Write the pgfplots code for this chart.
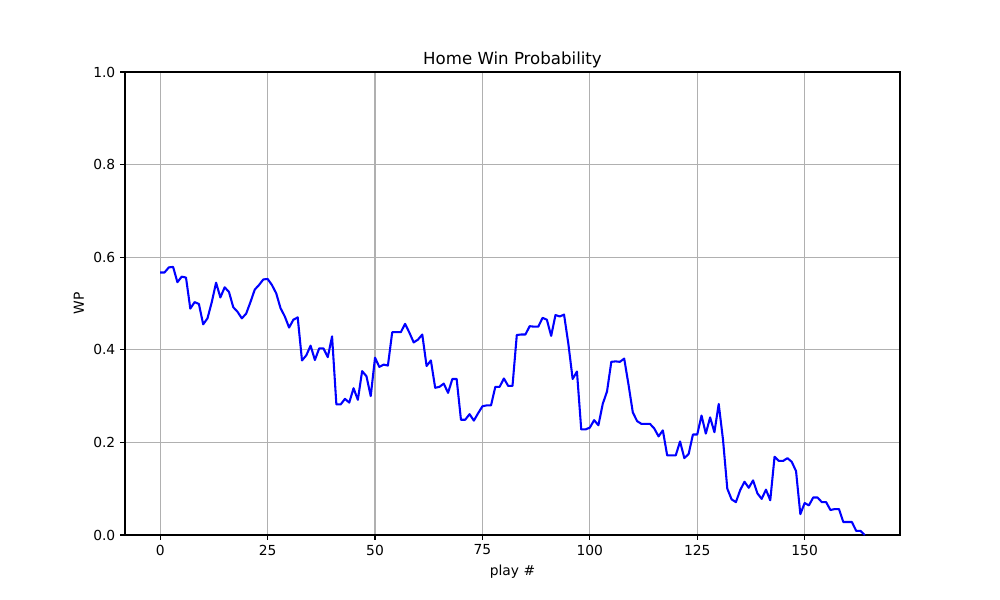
\documentclass[border=0pt]{standalone}
\usepackage{fontspec}
\setmainfont{DejaVu Sans}
\usepackage{pgfplots}
\pgfplotsset{compat=1.18}
\begin{document}
\begin{tikzpicture}
\path (0,0) rectangle (10in,6in);
\begin{axis}[
  at={(1.25in,0.65in)}, anchor=south west,
  scale only axis, width=7.75in, height=4.63in,
  xmin=-8.2, xmax=172.2, ymin=0, ymax=1,
  xtick={0,25,50,75,100,125,150},
  ytick={0,0.2,0.4,0.6,0.8,1.0},
  yticklabel style={/pgf/number format/.cd,fixed,fixed zerofill,precision=1},
  /pgf/number format/assume math mode=true,
  tick align=outside, xtick pos=left, ytick pos=left,
  major tick length=3.5pt,
  tick style={black, line width=0.8pt},
  axis line style={line width=0.8pt},
  grid=major, grid style={color=black!31, line width=0.8pt},
  tick label style={font=\fontsize{10}{12}\selectfont},
  label style={font=\fontsize{10}{12}\selectfont},
  title style={font=\fontsize{12}{14}\selectfont, yshift=-6.5pt},
  title={Home Win Probability},
  xlabel={play \#}, ylabel={WP},
]
\addplot[color=blue, line width=1.5pt, line join=round, mark=none] coordinates {
(0,0.567)(1,0.567)(2,0.578)(3,0.579)(4,0.546)(5,0.558)(6,0.556)(7,0.489)(8,0.503)(9,0.499)
(10,0.455)(11,0.468)(12,0.503)(13,0.545)(14,0.513)(15,0.535)(16,0.525)(17,0.492)(18,0.482)(19,0.468)
(20,0.478)(21,0.503)(22,0.530)(23,0.540)(24,0.552)(25,0.553)(26,0.540)(27,0.522)(28,0.490)(29,0.472)
(30,0.448)(31,0.465)(32,0.470)(33,0.377)(34,0.388)(35,0.409)(36,0.378)(37,0.403)(38,0.403)(39,0.384)
(40,0.429)(41,0.282)(42,0.282)(43,0.294)(44,0.286)(45,0.317)(46,0.292)(47,0.354)(48,0.343)(49,0.300)
(50,0.383)(51,0.363)(52,0.368)(53,0.366)(54,0.438)(55,0.438)(56,0.438)(57,0.456)(58,0.437)(59,0.416)
(60,0.422)(61,0.433)(62,0.365)(63,0.377)(64,0.318)(65,0.320)(66,0.327)(67,0.307)(68,0.337)(69,0.337)
(70,0.249)(71,0.249)(72,0.261)(73,0.247)(74,0.263)(75,0.278)(76,0.280)(77,0.280)(78,0.320)(79,0.320)
(80,0.338)(81,0.322)(82,0.322)(83,0.432)(84,0.433)(85,0.433)(86,0.451)(87,0.450)(88,0.450)(89,0.469)
(90,0.465)(91,0.430)(92,0.475)(93,0.472)(94,0.476)(95,0.413)(96,0.337)(97,0.353)(98,0.228)(99,0.228)
(100,0.232)(101,0.248)(102,0.237)(103,0.283)(104,0.310)(105,0.374)(106,0.375)(107,0.374)(108,0.381)(109,0.325)
(110,0.265)(111,0.246)(112,0.240)(113,0.240)(114,0.240)(115,0.230)(116,0.213)(117,0.226)(118,0.172)(119,0.172)
(120,0.172)(121,0.202)(122,0.166)(123,0.175)(124,0.217)(125,0.217)(126,0.258)(127,0.219)(128,0.254)(129,0.222)
(130,0.283)(131,0.206)(132,0.100)(133,0.077)(134,0.071)(135,0.097)(136,0.115)(137,0.102)(138,0.118)(139,0.090)
(140,0.078)(141,0.098)(142,0.075)(143,0.169)(144,0.160)(145,0.160)(146,0.166)(147,0.158)(148,0.138)(149,0.045)
(150,0.069)(151,0.064)(152,0.081)(153,0.081)(154,0.071)(155,0.071)(156,0.054)(157,0.056)(158,0.056)(159,0.028)
(160,0.028)(161,0.028)(162,0.009)(163,0.009)(164,0.000)
};
\end{axis}
\end{tikzpicture}
\end{document}
